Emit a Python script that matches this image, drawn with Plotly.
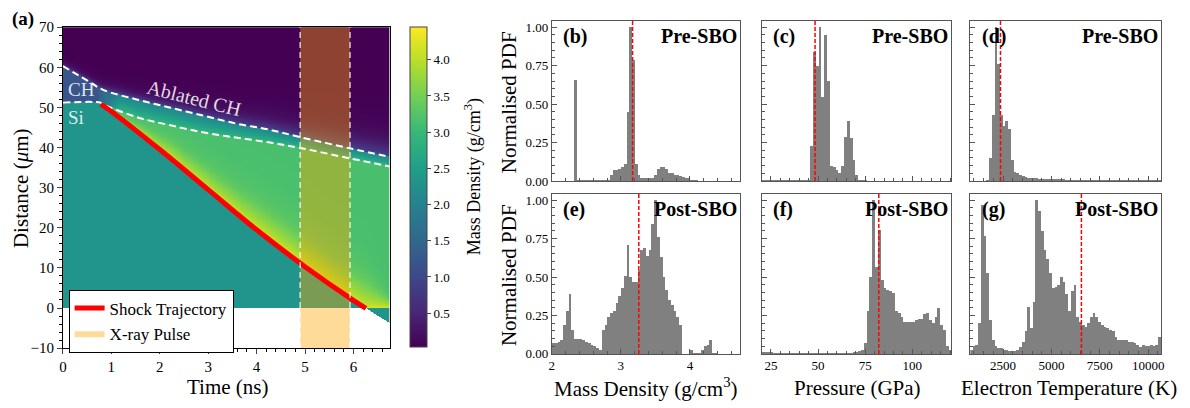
import numpy as np
import plotly.graph_objects as go

# ---------------- panel (a): target evolution (time in ns, distance in µm) ----------------
FRONT_T = [0.0, 0.49, 0.83, 1.52, 2.2, 2.89, 3.57, 4.25, 4.9, 5.93, 6.75]
FRONT_D = [60.3, 56.8, 54.4, 52.0, 50.0, 48.0, 46.0, 44.5, 42.6, 39.8, 37.7]
IFACE_T = [0.0, 0.78, 0.83, 1.52, 2.2, 2.89, 3.57, 4.25, 4.9, 5.93, 6.75]
IFACE_D = [51.2, 51.2, 50.8, 47.6, 45.6, 43.8, 42.5, 41.3, 39.9, 37.3, 35.3]
SHOCK_T = [0.78, 1.0, 2.0, 3.0, 4.0, 5.0, 6.0, 6.26]
SHOCK_D = [50.8, 49.0, 39.5, 29.5, 19.5, 10.3, 1.9, -0.1]
FAN_T = [0.78, 2.2, 3.57, 4.9, 5.93, 6.75]
FAN_D = [50.8, 40.5, 28.0, 16.5, 7.5, 1.5]
WEDGE_T = [6.26, 6.75]
WEDGE_D = [0.0, -3.9]
XRAY_T = [4.9, 5.93]

RHO_VAC = 0.03
RHO_CH = 1.2
RHO_CH_EDGE = 1.0
RHO_CH_LOW = 2.0
RHO_CH_HIGH = 2.9
RHO_SI = 2.33
RHO_SHOCKED = 3.15
RHO_FAN_EDGE = 3.55
RHO_PEAK = 4.3
RHO_MIN, RHO_MAX = 0.03, 4.45
CBAR_TICKS = [0.5, 1.0, 1.5, 2.0, 2.5, 3.0, 3.5, 4.0]

# ---------------- panels (b)-(g): normalised PDFs ----------------
RHO_BIN_START, RHO_BIN_WIDTH = 2.0, 0.04
PDF_RHO_PRE = [0, 0, 0, 0, 0, 0, 0, 0, 0.66, 0.01,
               0.005, 0.005, 0.005, 0.01, 0.005, 0.005, 0.005, 0.005, 0.005, 0.005,
               0.005, 0.04, 0.07, 0.07, 0.08, 0.09, 0.11, 0.45, 1.00, 0.79,
               0.11, 0.04, 0.02, 0.02, 0.02, 0.02, 0.02, 0.04, 0.08, 0.09,
               0.09, 0.08, 0.05, 0.05, 0.04, 0.04, 0.035, 0.03, 0.02, 0.02,
               0.005, 0.005, 0.005, 0, 0, 0, 0, 0, 0, 0,
               0, 0, 0, 0, 0, 0, 0, 0]
PDF_RHO_POST = [0.07, 0.07, 0.08, 0.09, 0.19, 0.28, 0.39, 0.16, 0.10, 0.10,
                0.10, 0.09, 0.08, 0.07, 0.06, 0.05, 0.04, 0.03, 0.16, 0.19,
                0.24, 0.27, 0.28, 0.33, 0.38, 0.43, 0.51, 0.71, 0.50, 0.47,
                0.47, 0.55, 0.68, 0.69, 0.64, 0.68, 0.85, 1.00, 0.76, 0.63,
                0.50, 0.42, 0.35, 0.32, 0.28, 0.24, 0.19, 0, 0, 0,
                0.03, 0.01, 0.01, 0.01, 0.03, 0.05, 0.06, 0.09, 0.01, 0.01,
                0, 0, 0, 0, 0, 0, 0, 0]
P_BIN_START, P_BIN_WIDTH = 20.0, 1.5
PDF_P_PRE = [0.003, 0.003, 0.003, 0.003, 0.003, 0.003, 0.003, 0.003, 0.003, 0.003,
             0.003, 0.003, 0.003, 0.003, 0.003, 0.003, 0.003, 0.23, 0.84, 0.75,
             1.00, 0.55, 0.95, 0.65, 0.10, 0.09, 0.07, 0.05, 0.10, 0.29,
             0.39, 0.28, 0.14, 0.04, 0.003, 0.003, 0.003, 0, 0, 0,
             0, 0, 0, 0, 0, 0, 0, 0, 0, 0,
             0, 0, 0, 0, 0, 0, 0, 0, 0, 0,
             0, 0, 0, 0, 0, 0, 0]
PDF_P_POST = [0.015, 0.015, 0.015, 0.015, 0.008, 0.008, 0.008, 0.008, 0.008, 0.008,
              0.008, 0.008, 0.008, 0.008, 0.008, 0.008, 0.008, 0.008, 0.008, 0.008,
              0.008, 0.008, 0.008, 0.008, 0.008, 0.008, 0.008, 0.008, 0.008, 0.008,
              0.008, 0.01, 0.012, 0.015, 0.02, 0.03, 0.07, 0.28, 0.50, 1.00,
              0.57, 0.81, 0.48, 0.43, 0.42, 0.41, 0.40, 0.28, 0.27, 0.24,
              0.21, 0.21, 0.21, 0.21, 0.22, 0.23, 0.23, 0.26, 0.27, 0.22,
              0.20, 0.24, 0.30, 0.19, 0.16, 0.05, 0.03]
TE_BIN_START, TE_BIN_WIDTH = 810.0, 140.86
PDF_TE_PRE = [0, 0, 0, 0, 0, 0, 0.01, 0.15, 0.43, 1.00,
              0.76, 0.43, 0.36, 0.39, 0.34, 0.14, 0.06, 0.05, 0.04, 0.035,
              0.03, 0.02, 0.02, 0.02, 0.02, 0.015, 0.015, 0.015, 0.015, 0.015,
              0.015, 0.015, 0.015, 0.015, 0.015, 0.01, 0.01, 0.01, 0.01, 0.01,
              0.01, 0.01, 0.01, 0.01, 0.01, 0.01, 0.01, 0.006, 0.006, 0.006,
              0.006, 0.006, 0.006, 0.006, 0.006, 0.006, 0.006, 0.006, 0.006, 0.006,
              0.006, 0.004, 0.004, 0.004, 0.004, 0.004, 0.004, 0.004, 0.004, 0.004]
PDF_TE_POST = [0.03, 0.05, 0.06, 0.20, 0.97, 0.77, 0.53, 0.22, 0.09, 0.05,
               0.04, 0.04, 0.03, 0.025, 0.02, 0.02, 0.02, 0.025, 0.045, 0.08,
               0.15, 0.31, 0.17, 0.34, 1.00, 0.93, 0.80, 0.68, 0.62, 0.53,
               0.43, 0.44, 0.45, 0.50, 0.47, 0.39, 0.28, 0.41, 0.45, 0.24,
               0.21, 0.19, 0.18, 0.20, 0.24, 0.27, 0.24, 0.21, 0.19, 0.18,
               0.17, 0.16, 0.15, 0.11, 0.09, 0.09, 0.09, 0.09, 0.08, 0.08,
               0.07, 0.06, 0.045, 0.06, 0.055, 0.05, 0.06, 0.055, 0.06, 0.11]
MEAN_RHO = [3.17, 3.26]
MEAN_P = [48.4, 82.2]
MEAN_TE = [2370, 6550]

RANGE_RHO = [2.0, 4.72]
RANGE_P = [20.0, 120.7]
RANGE_TE = [810, 10670]
RANGE_PDF = [0, 1.042]

FONT = "Liberation Serif"
GREY = "rgb(128,128,128)"
FRAME = "#555555"
W, H = 1190, 408


def hdom(x0, x1):
    return [x0 / W, x1 / W]


def vdom(top, bottom):
    return [1 - bottom / H, 1 - top / H]


# ---------------- density field for panel (a) ----------------
t_grid = np.arange(0, 6.76, 0.02)
d_grid = np.arange(-10, 70.05, 0.1)
T, D = np.meshgrid(t_grid, d_grid)
front = np.interp(T, FRONT_T, FRONT_D)
iface = np.interp(T, IFACE_T, IFACE_D)
shock = np.interp(T, SHOCK_T, SHOCK_D)
fan = np.interp(T, FAN_T, FAN_D)
wedge = np.interp(T, WEDGE_T, WEDGE_D)

rho = np.full(T.shape, RHO_SI)

# ablated plasma expanding beyond the front
scale = 0.6 + 0.35 * T
above = D > front
rho[above] = RHO_VAC + (RHO_CH_EDGE - RHO_VAC) * np.exp(-(D - front)[above] / scale[above])

# CH ablator layer
ch = (D <= front) & (D > iface)
frac = np.clip((front - D) / np.maximum(front - iface, 0.1), 0, 1)
blend = np.clip((T - 0.7) / 0.5, 0, 1)
rho_ch = RHO_CH * (1 - blend) + (RHO_CH_LOW + (RHO_CH_HIGH - RHO_CH_LOW) * frac) * blend
rho[ch] = rho_ch[ch]

# shocked silicon behind the shock front
shocked = (D <= iface) & (D >= shock) & (T >= SHOCK_T[0])
width = np.maximum(fan - shock, 0.3)
u = (D - shock) / width
rho_fan = RHO_PEAK - (RHO_PEAK - RHO_FAN_EDGE) * np.clip(u, 0, 1) ** 0.6
rho_back = RHO_SHOCKED + (RHO_FAN_EDGE - RHO_SHOCKED) * np.exp(-(u - 1).clip(0) * 1.5)
rho_s = np.where(u < 1, rho_fan, rho_back)
rho[shocked] = rho_s[shocked]

# rear surface: empty below zero except the released material after breakout
below = D < 0
released = below & (T > WEDGE_T[0]) & (D >= wedge)
rho[below] = np.nan
rho[released] = RHO_SI
rho = np.round(rho, 3)

fig = go.Figure()

fig.add_trace(go.Heatmap(
    x=t_grid, y=d_grid, z=rho, colorscale="Viridis", zmin=RHO_MIN, zmax=RHO_MAX,
    xaxis="x", yaxis="y", hoverinfo="skip", showlegend=False,
    colorbar=dict(
        x=408 / W, xanchor="left", y=1 - 186.5 / H, yanchor="middle",
        len=333 / H, lenmode="fraction", thickness=17, xpad=0, ypad=0,
        outlinewidth=1, outlinecolor="#444444", tickvals=CBAR_TICKS,
        ticktext=[f"{v:.1f}" for v in CBAR_TICKS], ticks="outside", ticklen=4,
        tickcolor="#444444", tickfont=dict(family=FONT, size=13, color="black"),
    ),
))

y_lo, y_hi = -10, 70
fig.add_trace(go.Scatter(
    x=[XRAY_T[0], XRAY_T[1], XRAY_T[1], XRAY_T[0], XRAY_T[0]],
    y=[y_lo, y_lo, y_hi, y_hi, y_lo], mode="lines", fill="toself",
    fillcolor="rgba(255,165,0,0.4)", line=dict(width=0, color="rgba(255,165,0,0.4)"),
    name="X-ray Pulse", xaxis="x", yaxis="y", hoverinfo="skip", legendrank=2,
))
for xs, ys in ((FRONT_T, FRONT_D), (IFACE_T, IFACE_D)):
    fig.add_trace(go.Scatter(
        x=xs, y=ys, mode="lines", line=dict(color="white", width=2, dash="7px,4px", shape="spline"),
        xaxis="x", yaxis="y", showlegend=False, hoverinfo="skip",
    ))
fig.add_trace(go.Scatter(
    x=SHOCK_T, y=SHOCK_D, mode="lines", line=dict(color="red", width=5, shape="spline"),
    name="Shock Trajectory", xaxis="x", yaxis="y", hoverinfo="skip", legendrank=1,
))

shapes = []
for tx in XRAY_T:
    shapes.append(dict(type="line", xref="x", yref="y domain", x0=tx, x1=tx, y0=0, y1=1,
                       line=dict(color="rgba(255,255,255,0.75)", width=1.5, dash="6px,4px")))

# ---------------- histograms ----------------
panels = [
    ("x2", "y2", RHO_BIN_START, RHO_BIN_WIDTH, PDF_RHO_PRE, MEAN_RHO[0], "(b)", "Pre-SBO"),
    ("x3", "y3", P_BIN_START, P_BIN_WIDTH, PDF_P_PRE, MEAN_P[0], "(c)", "Pre-SBO"),
    ("x4", "y4", TE_BIN_START, TE_BIN_WIDTH, PDF_TE_PRE, MEAN_TE[0], "(d)", "Pre-SBO"),
    ("x5", "y5", RHO_BIN_START, RHO_BIN_WIDTH, PDF_RHO_POST, MEAN_RHO[1], "(e)", "Post-SBO"),
    ("x6", "y6", P_BIN_START, P_BIN_WIDTH, PDF_P_POST, MEAN_P[1], "(f)", "Post-SBO"),
    ("x7", "y7", TE_BIN_START, TE_BIN_WIDTH, PDF_TE_POST, MEAN_TE[1], "(g)", "Post-SBO"),
]

annotations = []
for xa, ya, start, bw, heights, mean, tag, phase in panels:
    centers = start + bw * (np.arange(len(heights)) + 0.5)
    fig.add_trace(go.Bar(
        x=centers, y=heights, width=bw, marker=dict(color=GREY, line=dict(width=0)),
        xaxis=xa, yaxis=ya, showlegend=False, hoverinfo="skip",
    ))
    shapes.append(dict(type="line", xref=xa, yref=f"{ya} domain", x0=mean, x1=mean, y0=0, y1=1,
                       line=dict(color="red", width=1.5, dash="4px,2px")))
    annotations.append(dict(xref=f"{xa} domain", yref=f"{ya} domain", x=0.05, y=0.985,
                            xanchor="left", yanchor="top", text=f"<b>{tag}</b>", showarrow=False,
                            font=dict(family=FONT, size=20, color="black")))
    annotations.append(dict(xref=f"{xa} domain", yref=f"{ya} domain", x=0.995, y=0.985,
                            xanchor="right", yanchor="top", text=f"<b>{phase}</b>", showarrow=False,
                            font=dict(family=FONT, size=20, color="black")))

# ---------------- text ----------------
def label(x, y, text, size=21, angle=0, color="black", bold=False):
    annotations.append(dict(xref="paper", yref="paper", x=x / W, y=1 - y / H, text=f"<b>{text}</b>" if bold else text,
                            textangle=angle, showarrow=False, xanchor="center", yanchor="middle",
                            font=dict(family=FONT, size=size, color=color)))


label(19, 11.5, "(a)", size=19, bold=True)
label(225.5, 394, "Time (ns)")
label(17, 187.5, "Distance (<i>μ</i>m)", angle=-90)
label(472, 176, "Mass Density (g/cm<sup>3</sup>)", size=18, angle=-90)
label(508, 98, "Normalised PDF", angle=-90)
label(508, 278, "Normalised PDF", angle=-90)
label(646, 395, "Mass Density (g/cm<sup>3</sup>)")
label(858.5, 395, "Pressure (GPa)")
label(1071.5, 395, "Electron Temperature (K)")

for tx, dy, text, angle, size in ((0.39, 54.4, "CH", 0, 19), (0.27, 47.4, "Si", 0, 19),
                                  (2.70, 52.3, "Ablated CH", 14, 20)):
    annotations.append(dict(xref="x", yref="y", x=tx, y=dy, text=text, textangle=angle, showarrow=False,
                            xanchor="center", yanchor="middle",
                            font=dict(family=FONT, size=size, color="rgba(255,255,255,0.85)")))

# ---------------- axes ----------------
def hist_x(dom, anchor, rng, dtick, minor, labels):
    return dict(domain=dom, anchor=anchor, range=rng, showline=True, mirror=True, linecolor=FRAME,
                linewidth=1, ticks="inside", ticklen=5, tickcolor=FRAME, dtick=dtick, tick0=0,
                tickformat="d" if dtick >= 1 else None,
                showticklabels=labels, tickfont=dict(family=FONT, size=13, color="black"),
                minor=dict(dtick=minor, ticks="inside", ticklen=3, tickcolor=FRAME),
                showgrid=False, zeroline=False, fixedrange=True)


def hist_y(dom, anchor, labels):
    return dict(domain=dom, anchor=anchor, range=RANGE_PDF, showline=True, mirror=True, linecolor=FRAME,
                linewidth=1, ticks="inside", ticklen=5, tickcolor=FRAME, dtick=0.25, tick0=0,
                tickformat=".2f", showticklabels=labels,
                tickfont=dict(family=FONT, size=13, color="black"),
                minor=dict(dtick=0.05, ticks="inside", ticklen=3, tickcolor=FRAME),
                showgrid=False, zeroline=False, fixedrange=True)


top_row = vdom(13.3, 180)
bot_row = vdom(193.3, 360)
col_b = hdom(551, 740)
col_c = hdom(762, 953)
col_d = hdom(972, 1164)

layout = dict(
    width=W, height=H, margin=dict(l=0, r=0, t=0, b=0),
    paper_bgcolor="white", plot_bgcolor="white",
    font=dict(family=FONT, color="black"),
    bargap=0,
    showlegend=True,
    legend=dict(x=65 / W, y=1 - 293 / H, xanchor="left", yanchor="top", bgcolor="white",
                bordercolor="black", borderwidth=1, font=dict(family=FONT, size=17),
                tracegroupgap=0, itemwidth=30),
    xaxis=dict(domain=hdom(59.3, 388), anchor="y", range=[0, 6.75], showline=True, mirror=True,
               linecolor="black", linewidth=1, ticks="outside", ticklen=5, dtick=1, tick0=0,
               tickfont=dict(family=FONT, size=15, color="black"),
               minor=dict(dtick=0.2, ticks="outside", ticklen=3, tickcolor="black"),
               showgrid=False, zeroline=False),
    yaxis=dict(domain=vdom(20, 354), anchor="x", range=[-10, 70], showline=True, mirror=True,
               linecolor="black", linewidth=1, ticks="outside", ticklen=5, dtick=10, tick0=0,
               tickfont=dict(family=FONT, size=15, color="black"),
               minor=dict(dtick=2, ticks="outside", ticklen=3, tickcolor="black"),
               showgrid=False, zeroline=False),
    xaxis2=hist_x(col_b, "y2", RANGE_RHO, 1, 0.2, False),
    yaxis2=hist_y(top_row, "x2", True),
    xaxis3=hist_x(col_c, "y3", RANGE_P, 25, 5, False),
    yaxis3=hist_y(top_row, "x3", False),
    xaxis4=hist_x(col_d, "y4", RANGE_TE, 2500, 500, False),
    yaxis4=hist_y(top_row, "x4", False),
    xaxis5=hist_x(col_b, "y5", RANGE_RHO, 1, 0.2, True),
    yaxis5=hist_y(bot_row, "x5", True),
    xaxis6=hist_x(col_c, "y6", RANGE_P, 25, 5, True),
    yaxis6=hist_y(bot_row, "x6", False),
    xaxis7=hist_x(col_d, "y7", RANGE_TE, 2500, 500, True),
    yaxis7=hist_y(bot_row, "x7", False),
    shapes=shapes,
    annotations=annotations,
)
fig.update_layout(**layout)
fig.write_html("out.html")
